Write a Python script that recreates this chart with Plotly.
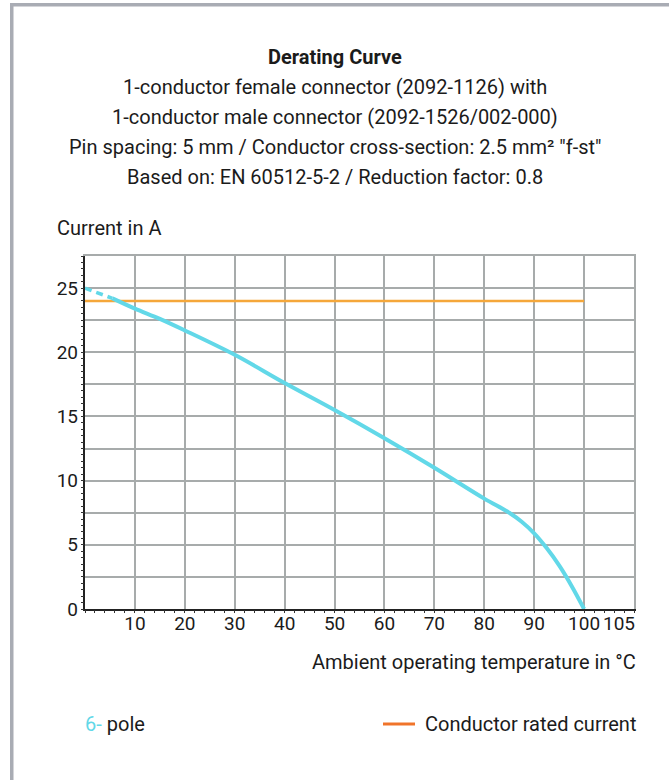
import plotly.graph_objects as go

# ---- data ----
temp_dashed = [0, 5.5]
current_dashed = [25, 24.2]
temp = [5.5, 10, 15, 20, 30, 40, 50, 60, 70, 80, 85, 87.5, 90, 92.5, 95, 97.5, 100]
current = [24.2, 23.4, 22.6, 21.7, 19.8, 17.6, 15.5, 13.3, 11.0, 8.6, 7.5, 6.8, 5.9, 4.75, 3.4, 1.8, 0]
rated_temp = [0, 100]
rated_current = [24, 24]

x_tickvals = [10, 20, 30, 40, 50, 60, 70, 80, 90, 100, 107]
x_ticktext = ["10", "20", "30", "40", "50", "60", "70", "80", "90", "100", "105"]
y_tickvals = [0, 5, 10, 15, 20, 25]

title_lines = [
    "<b>Derating Curve</b>",
    "1-conductor female connector (2092-1126) with",
    "1-conductor male connector (2092-1526/002-000)",
    "Pin spacing: 5 mm / Conductor cross-section: 2.5 mm² \"f-st\"",
    "Based on: EN 60512-5-2 / Reduction factor: 0.8",
]

FONT = "Roboto, sans-serif"
FS = 20
TFS = 19
TXT = "#1b1b1b"
CYAN = "#62d8e8"
ORANGE = "#f5a73a"
GRID = "#a7abab"

W, H = 669, 780
L, R, T, B = 85, 634, 256, 609
XR = [0, 110]
YR = [0, 27.5]


def xp(px):
    return (px - L) / (R - L)


def yp(py):
    return (B - py) / (B - T)


fig = go.Figure()
fig.add_trace(go.Scatter(x=rated_temp, y=rated_current, mode="lines",
                         line=dict(color=ORANGE, width=2.5), showlegend=False))
fig.add_trace(go.Scatter(x=temp_dashed, y=current_dashed, mode="lines",
                         line=dict(color=CYAN, width=3.5, dash="7px,5px"), showlegend=False))
fig.add_trace(go.Scatter(x=temp, y=current, mode="lines",
                         line=dict(color=CYAN, width=4, shape="spline", smoothing=1.0),
                         showlegend=False))
fig.add_trace(go.Scatter(x=[], y=[], xaxis="x2", yaxis="y2", showlegend=False))
fig.add_trace(go.Scatter(x=[], y=[], xaxis="x3", yaxis="y3", showlegend=False))

axis_common = dict(zeroline=False, showgrid=False, ticks="")

fig.update_layout(
    width=W, height=H,
    margin=dict(l=L, r=W - R, t=T, b=H - B),
    paper_bgcolor="white", plot_bgcolor="white",
    font=dict(family=FONT, size=FS, color=TXT),
    xaxis=dict(range=XR, tickmode="linear", tick0=0, dtick=10,
               showgrid=True, gridcolor=GRID, gridwidth=1.5,
               showticklabels=False, ticks="", zeroline=False,
               showline=True, linecolor="#222", linewidth=1.5),
    yaxis=dict(range=YR, tickmode="linear", tick0=0, dtick=2.5,
               showgrid=True, gridcolor=GRID, gridwidth=1.5,
               showticklabels=False, ticks="", zeroline=False,
               showline=True, linecolor="#222", linewidth=1.5),
    xaxis2=dict(range=XR, overlaying="x", anchor="y", side="bottom",
                tickmode="array", tickvals=x_tickvals, ticktext=x_ticktext,
                tickangle=0, showline=False,
                tickfont=dict(size=TFS, color=TXT, family=FONT),
                ticklabelstandoff=1,
                minor=dict(tickmode="linear", tick0=0, dtick=2, ticks="outside",
                           ticklen=3, tickcolor="#333", tickwidth=1, showgrid=False),
                **axis_common),
    yaxis2=dict(range=YR, overlaying="y", anchor="x", side="left",
                tickmode="array", tickvals=y_tickvals, tickangle=0, showline=False,
                tickfont=dict(size=TFS, color=TXT, family=FONT),
                ticklabelstandoff=6,
                minor=dict(tickmode="linear", tick0=0, dtick=0.5, ticks="outside",
                           ticklen=3, tickcolor="#333", tickwidth=1, showgrid=False),
                **axis_common),
    xaxis3=dict(range=XR, overlaying="x", anchor="y", side="top",
                showticklabels=False, showline=True, linecolor=GRID, linewidth=1.5,
                **axis_common),
    yaxis3=dict(range=YR, overlaying="y", anchor="x", side="right",
                showticklabels=False, showline=True, linecolor=GRID, linewidth=1.5,
                **axis_common),
)

ann = []
for i, line in enumerate(title_lines):
    ann.append(dict(text=line, x=xp(335), y=yp(57 + 30 * i), xref="paper", yref="paper",
                    xanchor="center", yanchor="middle", showarrow=False,
                    font=dict(size=FS, color=TXT, family=FONT)))
ann.append(dict(text="Current in A", x=xp(55), y=yp(228), xref="paper", yref="paper",
                xanchor="left", yanchor="middle", showarrow=False,
                font=dict(size=FS, color=TXT, family=FONT)))
ann.append(dict(text="Ambient operating temperature in °C", x=xp(638), y=yp(662),
                xref="paper", yref="paper", xanchor="right", yanchor="middle",
                showarrow=False, font=dict(size=FS, color=TXT, family=FONT)))
ann.append(dict(text=f"<span style='color:{CYAN}'>6-</span> pole", x=xp(83), y=yp(724),
                xref="paper", yref="paper", xanchor="left", yanchor="middle",
                showarrow=False, font=dict(size=FS, color=TXT, family=FONT)))
ann.append(dict(text="Conductor rated current", x=xp(638), y=yp(724),
                xref="paper", yref="paper", xanchor="right", yanchor="middle",
                showarrow=False, font=dict(size=FS, color=TXT, family=FONT)))
fig.update_layout(annotations=ann)

shapes = [
    dict(type="line", xref="paper", yref="paper", x0=xp(383), x1=xp(415), y0=yp(724), y1=yp(724),
         line=dict(color="#f0742a", width=3)),
    dict(type="rect", xref="paper", yref="paper", x0=xp(10), x1=xp(13.5), y0=yp(3), y1=yp(790),
         fillcolor="#a9acb4", line=dict(width=0)),
    dict(type="rect", xref="paper", yref="paper", x0=xp(10), x1=xp(680), y0=yp(3), y1=yp(6.5),
         fillcolor="#a9acb4", line=dict(width=0)),
]
fig.update_layout(shapes=shapes)

fig.write_html("out.html", post_script="document.body.style.margin='0';",
               config={"displayModeBar": False})
